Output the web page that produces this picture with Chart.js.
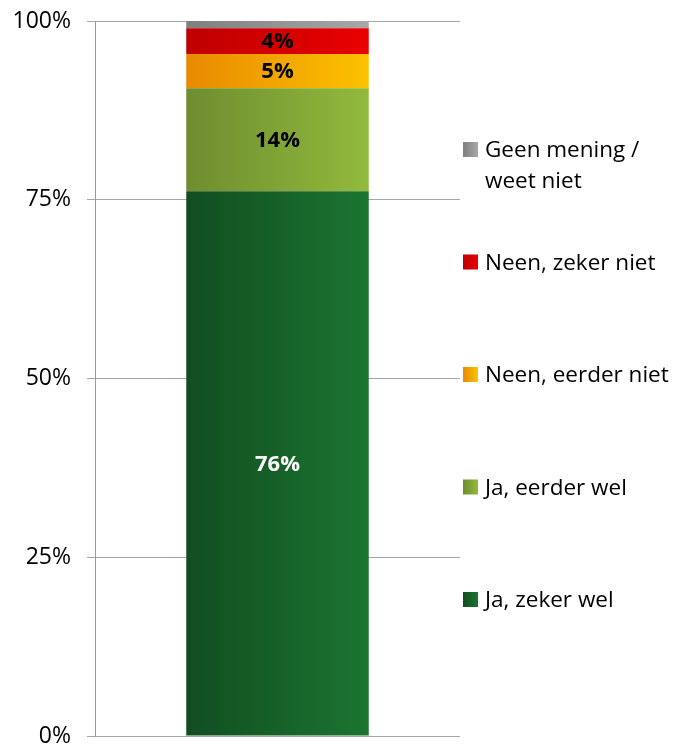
<!DOCTYPE html>
<html>
<head>
<meta charset="utf-8">
<script src="https://cdn.jsdelivr.net/npm/chart.js@4"></script>
<style>
  html, body { margin: 0; padding: 0; background: #ffffff; }
  #wrap { width: 678px; height: 745px; position: relative; }
</style>
</head>
<body>
<div id="wrap"><canvas id="c" width="678" height="745"></canvas></div>
<script>
// ---- data ----
const categories = [""];
const seriesNames = ["Ja, zeker wel", "Ja, eerder wel", "Neen, eerder niet", "Neen, zeker niet", "Geen mening / weet niet"];
const legendLines = [["Ja, zeker wel"], ["Ja, eerder wel"], ["Neen, eerder niet"], ["Neen, zeker niet"], ["Geen mening /", "weet niet"]];
const jaZekerWel = [76.2];
const jaEerderWel = [14.4];
const neenEerderNiet = [4.8];
const neenZekerNiet = [3.6];
const geenMening = [1.0];
const valueLabels = ["76%", "14%", "5%", "4%", ""];
const yTicks = [0, 25, 50, 75, 100];

// ---- styles ----
const gradStops = [
  ["#124d21", "#1b7530"],
  ["#6e8d30", "#92ba3c"],
  ["#e88a00", "#fcc200"],
  ["#bf0000", "#ea0000"],
  ["#7f7f7f", "#a8a8a8"]
];
const labelColors = ["#ffffff", "#000000", "#000000", "#000000", "#000000"];
const FONT = "'Open Sans', Lato, sans-serif";
const BAR_FRAC = 0.5;

function barGradient(idx) {
  return function (ctx) {
    const chart = ctx.chart;
    const area = chart.chartArea;
    if (!area) return gradStops[idx][0];
    const w = (area.right - area.left) * BAR_FRAC;
    const cx = (area.left + area.right) / 2;
    const g = chart.ctx.createLinearGradient(cx - w / 2, 0, cx + w / 2, 0);
    g.addColorStop(0, gradStops[idx][0]);
    g.addColorStop(1, gradStops[idx][1]);
    return g;
  };
}

const seriesData = [jaZekerWel, jaEerderWel, neenEerderNiet, neenZekerNiet, geenMening];

const datasets = seriesNames.map((name, i) => ({
  label: name,
  data: seriesData[i],
  backgroundColor: barGradient(i),
  borderWidth: 0,
  categoryPercentage: 1,
  barPercentage: BAR_FRAC
}));

const valueLabelPlugin = {
  id: "valueLabels",
  afterDatasetsDraw(chart) {
    const ctx = chart.ctx;
    ctx.save();
    ctx.font = "bold 22px " + FONT;
    ctx.textAlign = "center";
    ctx.textBaseline = "middle";
    chart.data.datasets.forEach((ds, i) => {
      const meta = chart.getDatasetMeta(i);
      const el = meta.data[0];
      if (!el || !valueLabels[i]) return;
      const y = (el.y + el.base) / 2;
      ctx.fillStyle = labelColors[i];
      ctx.fillText(valueLabels[i], el.x, y + 1);
    });
    ctx.restore();
  }
};

const legendPlugin = {
  id: "customLegend",
  afterDraw(chart) {
    const ctx = chart.ctx;
    const area = chart.chartArea;
    ctx.save();
    ctx.font = "22.5px " + FONT;
    ctx.textBaseline = "middle";
    ctx.textAlign = "left";
    const x0 = area.right + 3;
    const firstY = 149;
    const step = 112.5;
    const lineH = 31;
    const n = seriesNames.length;
    for (let k = 0; k < n; k++) {
      const i = n - 1 - k;
      const y = firstY + k * step;
      const g = ctx.createLinearGradient(x0, 0, x0 + 15, 0);
      g.addColorStop(0, gradStops[i][0]);
      g.addColorStop(1, gradStops[i][1]);
      ctx.fillStyle = g;
      ctx.fillRect(x0, y - 7, 15, 15);
      ctx.fillStyle = "#000000";
      legendLines[i].forEach((line, j) => {
        ctx.fillText(line, x0 + 22, y + 2 + j * lineH);
      });
    }
    ctx.restore();
  }
};

new Chart(document.getElementById("c"), {
  type: "bar",
  data: { labels: categories, datasets: datasets },
  options: {
    responsive: false,
    animation: false,
    layout: { padding: { top: 21, right: 218, bottom: 9, left: 0 } },
    plugins: { legend: { display: false }, tooltip: { enabled: false } },
    scales: {
      x: {
        stacked: true,
        display: false
      },
      y: {
        stacked: true,
        min: 0,
        max: 100,
        afterFit(scale) { scale.width = 95; scale.paddingTop = 0; scale.paddingBottom = 0; },
        afterBuildTicks(scale) { scale.ticks = yTicks.map(v => ({ value: v })); },
        border: { display: true, color: "#9a9a9a", width: 1 },
        grid: { color: "#a6a6a6", lineWidth: 1, tickLength: 8, drawTicks: true },
        ticks: {
          padding: 16,
          color: "#000000",
          font: { family: FONT, size: 23 },
          callback: v => v + "%"
        }
      }
    }
  },
  plugins: [valueLabelPlugin, legendPlugin]
});
</script>
</body>
</html>
